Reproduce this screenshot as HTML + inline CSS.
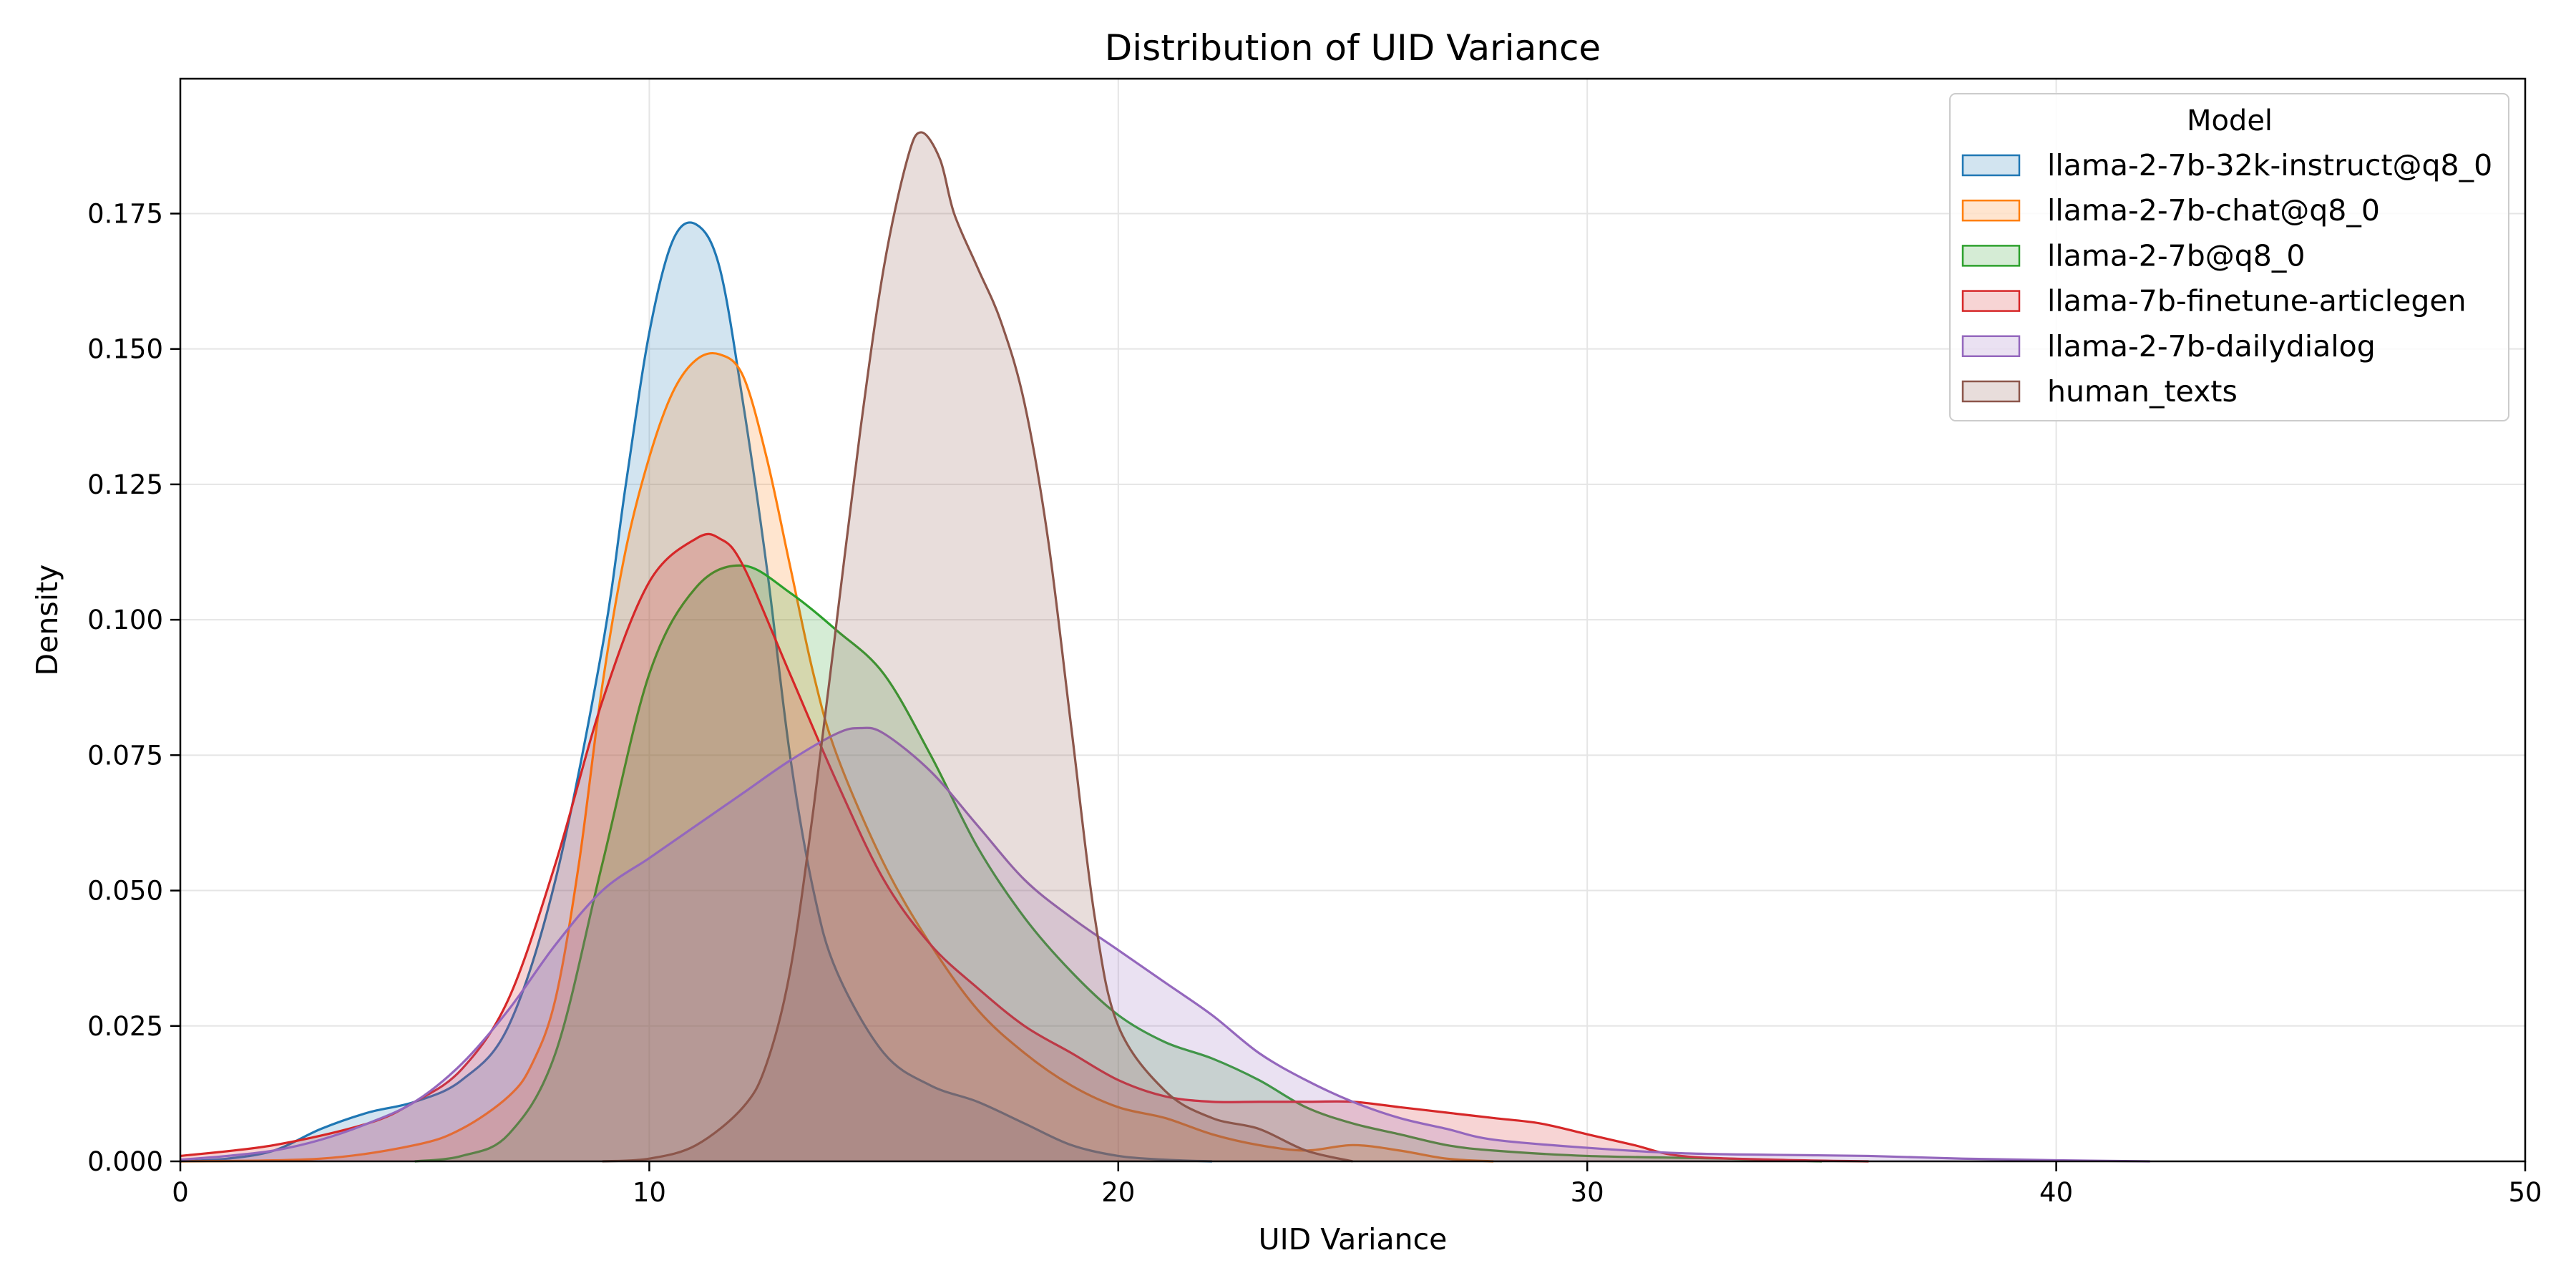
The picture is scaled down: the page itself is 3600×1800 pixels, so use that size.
<!DOCTYPE html>
<html><head><meta charset="utf-8"><style>
html,body{margin:0;padding:0;background:#fff}
svg{display:block;font-family:"DejaVu Sans","Liberation Sans",sans-serif}
</style></head><body>
<svg id="chart" width="3600" height="1800" viewBox="0 0 3600 1800" xmlns="http://www.w3.org/2000/svg">
<rect width="3600" height="1800" fill="#fff"/>
<g id="grid"></g><g id="series"></g><g id="axes"></g><g id="legend"></g>
</svg>
<script>
const xTicks=[0,10,20,30,40,50];
const yTicks=[0,0.025,0.05,0.075,0.1,0.125,0.15,0.175];
const yTickLabels=["0.000","0.025","0.050","0.075","0.100","0.125","0.150","0.175"];
const seriesNames=["llama-2-7b-32k-instruct@q8_0","llama-2-7b-chat@q8_0","llama-2-7b@q8_0","llama-7b-finetune-articlegen","llama-2-7b-dailydialog","human_texts"];
const seriesColors=["#1f77b4","#ff7f0e","#2ca02c","#d62728","#9467bd","#8c564b"];
const blueX=[0,1,2,3,4,5,6,7,8,9,9.5,10,10.5,11,11.5,12,12.5,13,13.5,14,15,16,17,18,19,20,21,22];
const blueY=[0,0.0005,0.002,0.006,0.009,0.011,0.015,0.025,0.052,0.095,0.125,0.153,0.17,0.173,0.165,0.14,0.11,0.075,0.05,0.035,0.02,0.014,0.011,0.007,0.003,0.001,0.0003,0];
const orangeX=[0,3,5,6,7,7.5,8,8.5,9,9.5,10,10.5,11,11.5,12,12.5,13,13.5,14,15,16,17,18,19,20,21,22,23,24,25,26,27,28];
const orangeY=[0,0.0005,0.003,0.006,0.012,0.018,0.03,0.055,0.088,0.113,0.13,0.142,0.148,0.149,0.145,0.13,0.11,0.09,0.075,0.055,0.04,0.028,0.02,0.014,0.01,0.008,0.005,0.003,0.002,0.003,0.002,0.0005,0];
const greenX=[5,6,7,8,9,10,11,12,13,14,15,16,17,18,19,20,21,22,23,24,25,26,27,28,30,33,35];
const greenY=[0,0.001,0.005,0.02,0.055,0.09,0.106,0.11,0.105,0.098,0.09,0.075,0.058,0.045,0.035,0.027,0.022,0.019,0.015,0.01,0.007,0.005,0.003,0.002,0.001,0.0005,0];
const redX=[0,2,4,5,6,7,8,9,10,11,11.5,12,13,14,15,16,17,18,19,20,21,22,23,24,25,26,27,28,29,30,31,32,34,36];
const redY=[0.001,0.003,0.007,0.011,0.017,0.03,0.055,0.085,0.107,0.115,0.115,0.11,0.09,0.07,0.052,0.04,0.032,0.025,0.02,0.015,0.012,0.011,0.011,0.011,0.011,0.010,0.009,0.008,0.007,0.005,0.003,0.001,0.0003,0];
const purpleX=[0,1,2,3,4,5,6,7,8,9,10,11,12,13,14,14.5,15,16,17,18,19,20,21,22,23,24,25,26,27,28,30,32,34,36,38,40,42];
const purpleY=[0.0003,0.001,0.002,0.004,0.007,0.011,0.018,0.028,0.04,0.05,0.056,0.062,0.068,0.074,0.079,0.08,0.079,0.072,0.062,0.052,0.045,0.039,0.033,0.027,0.02,0.015,0.011,0.008,0.006,0.004,0.0025,0.0015,0.0012,0.001,0.0005,0.0002,0];
const brownX=[9,10,11,12,12.5,13,13.5,14,14.5,15,15.5,15.8,16.2,16.5,17,17.5,18,18.5,19,19.5,20,21,22,23,24,25];
const brownY=[0,0.0005,0.003,0.01,0.018,0.035,0.065,0.1,0.135,0.165,0.185,0.19,0.185,0.175,0.165,0.155,0.14,0.115,0.08,0.045,0.025,0.013,0.008,0.006,0.002,0];
const seriesX=[blueX,orangeX,greenX,redX,purpleX,brownX];
const seriesY=[blueY,orangeY,greenY,redY,purpleY,brownY];

const L=252,R=3529,T=110,B=1623,XMAX=50,YMAX=0.1999;
const NS="http://www.w3.org/2000/svg";
const sx=v=>L+(v/XMAX)*(R-L);
const sy=v=>B-(v/YMAX)*(B-T);
function mk(tag,attrs,parent){const e=document.createElementNS(NS,tag);for(const k in attrs)e.setAttribute(k,attrs[k]);parent.appendChild(e);return e;}
const grid=document.getElementById('grid'),axes=document.getElementById('axes'),ser=document.getElementById('series'),leg=document.getElementById('legend');

xTicks.forEach(t=>{
  const g=mk('line',{x1:sx(t),x2:sx(t),y1:T,y2:B,stroke:'#e5e5e5','stroke-width':2},grid);
  
  
  mk('line',{x1:sx(t),x2:sx(t),y1:B,y2:B+14,stroke:'#000','stroke-width':2.5},axes);
  const tx=mk('text',{x:sx(t),y:B+56,'font-size':37,'text-anchor':'middle',fill:'#000'},axes);
  tx.textContent=t;
  
  
});
yTicks.forEach((t,i)=>{
  const g=mk('line',{x1:L,x2:R,y1:sy(t),y2:sy(t),stroke:'#e5e5e5','stroke-width':2},grid);
  
  
  mk('line',{x1:L-14,x2:L,y1:sy(t),y2:sy(t),stroke:'#000','stroke-width':2.5},axes);
  const tx=mk('text',{x:L-24,y:sy(t)+13,'font-size':37,'text-anchor':'end',fill:'#000'},axes);
  tx.textContent=yTickLabels[i];
  
  
});

function smooth(pts){
  let d='M'+pts[0][0]+','+pts[0][1];
  for(let i=0;i<pts.length-1;i++){
    const p0=pts[Math.max(0,i-1)],p1=pts[i],p2=pts[i+1],p3=pts[Math.min(pts.length-1,i+2)];
    const c1x=p1[0]+(p2[0]-p0[0])/6,c1y=p1[1]+(p2[1]-p0[1])/6;
    const c2x=p2[0]-(p3[0]-p1[0])/6,c2y=p2[1]-(p3[1]-p1[1])/6;
    d+=` C${c1x},${Math.min(B,c1y)} ${c2x},${Math.min(B,c2y)} ${p2[0]},${p2[1]}`;
  }
  return d;
}
seriesX.forEach((xs,si)=>{
  const pts=xs.map((x,i)=>[sx(x),sy(seriesY[si][i])]);
  const line=smooth(pts);
  const area=line+` L${pts[pts.length-1][0]},${B} L${pts[0][0]},${B} Z`;
  const a=mk('path',{d:area,fill:seriesColors[si],'fill-opacity':0.2,stroke:'none'},ser);
  
  
  const l=mk('path',{d:line,fill:'none',stroke:seriesColors[si],'stroke-width':3.2},ser);
  
  
});

const frame=mk('rect',{x:L,y:T,width:R-L,height:B-T,fill:'none',stroke:'#000','stroke-width':2.5},axes);


const title=mk('text',{x:(L+R)/2,y:84,'font-size':50,'text-anchor':'middle',fill:'#000'},axes);
title.textContent='Distribution of UID Variance';


const xl=mk('text',{x:(L+R)/2,y:1746,'font-size':41,'text-anchor':'middle',fill:'#000'},axes);
xl.textContent='UID Variance';


const yl=mk('text',{x:0,y:0,'font-size':41,'text-anchor':'middle',fill:'#000',transform:`translate(80,${(T+B)/2}) rotate(-90)`},axes);
yl.textContent='Density';



const lb=mk('rect',{x:2725,y:131,width:781,height:457,rx:8,fill:'#fff','fill-opacity':0.85,stroke:'#ccc','stroke-width':2},leg);


const lt=mk('text',{x:3116,y:182,'font-size':40,'text-anchor':'middle',fill:'#000'},leg);
lt.textContent='Model';


seriesNames.forEach((n,i)=>{
  const cy=231+i*63.2;
  const g=mk('g',{},leg);
  
  
  mk('rect',{x:2743,y:cy-14,width:79,height:28,fill:seriesColors[i],'fill-opacity':0.2,stroke:seriesColors[i],'stroke-width':2.5},g);
  const t=mk('text',{x:2861,y:cy+14,'font-size':41,fill:'#000'},g);
  t.textContent=n;
});
</script>
</body></html>
